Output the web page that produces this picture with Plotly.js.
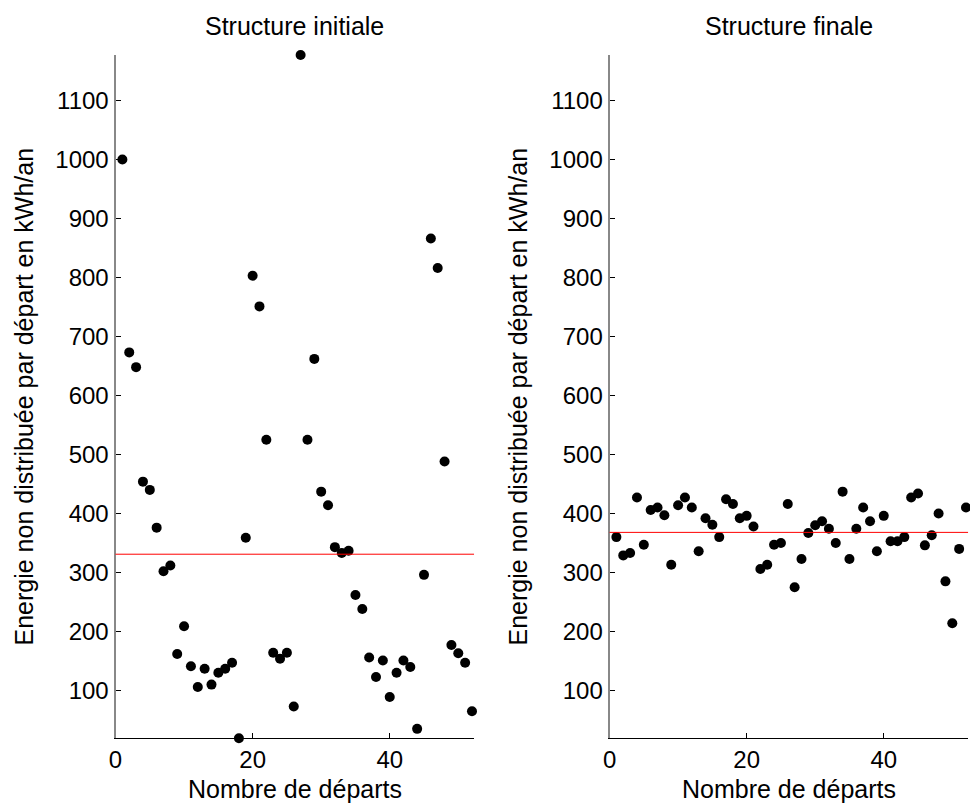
<!DOCTYPE html>
<html>
<head>
<meta charset="utf-8">
<script src="https://cdn.plot.ly/plotly-3.0.1.min.js"></script>
<style>
html,body{margin:0;padding:0;background:#fff;}
#chart{width:970px;height:810px;}
</style>
</head>
<body>
<div id="chart"></div>
<script>
// Data
const departs = [1,2,3,4,5,6,7,8,9,10,11,12,13,14,15,16,17,18,19,20,21,22,23,24,25,26,27,28,29,30,31,32,33,34,35,36,37,38,39,40,41,42,43,44,45,46,47,48,49,50,51,52];
const energieInitiale = [1000,673,648,454,440,376,302,312,162,209,141,106,137,110,130,137,147,19,359,803,751,525,164,154,164,73,1177,525,662,437,414,343,333,337,262,238,156,123,151,89,130,151,140,35,296,866,816,488,177,163,147,65];
const energieFinale = [360,329,333,427,347,406,410,397,313,414,427,410,336,392,381,360,424,416,392,396,378,306,313,347,350,416,275,323,367,380,387,374,350,437,323,374,410,387,336,396,353,353,360,427,434,346,363,400,285,214,340,410];
const moyenneInitiale = 331;
const moyenneFinale = 368;
const titres = ["Structure initiale", "Structure finale"];
const titreX = "Nombre de départs";
const titreY = "Energie non distribuée par départ en kWh/an";
const yTicks = [100,200,300,400,500,600,700,800,900,1000,1100];
const xTicks = [0,20,40];

const FONT = "Liberation Sans, Arial, Helvetica, sans-serif";

const traces = [
  {x: departs, y: energieInitiale, xaxis: 'x', yaxis: 'y', type: 'scatter', mode: 'markers',
   marker: {color: '#000', size: 10}, cliponaxis: false, hoverinfo: 'skip'},
  {x: departs, y: energieFinale, xaxis: 'x2', yaxis: 'y2', type: 'scatter', mode: 'markers',
   marker: {color: '#000', size: 10}, cliponaxis: false, hoverinfo: 'skip'}
];

function xAxis(domain, anchor) {
  return {domain: domain, anchor: anchor, range: [0, 52.3], tickmode: 'array', tickvals: xTicks,
    ticks: 'inside', ticklen: 5, tickcolor: '#000', showline: true, linecolor: '#000', linewidth: 1,
    showgrid: false, zeroline: false, tickfont: {family: FONT, size: 24, color: '#000'}};
}
function yAxis(domain, anchor) {
  return {domain: domain, anchor: anchor, range: [19, 1177], tickmode: 'array', tickvals: yTicks,
    ticks: 'inside', ticklen: 5, tickcolor: '#000', showline: true, linecolor: '#888', linewidth: 2,
    showgrid: false, zeroline: false, tickfont: {family: FONT, size: 24, color: '#000'}};
}

const yDom = [0.0885, 0.9321];
const layout = {
  width: 970, height: 810,
  margin: {l: 0, r: 0, t: 0, b: 0},
  paper_bgcolor: '#fff', plot_bgcolor: '#fff',
  showlegend: false,
  xaxis: xAxis([0.1191, 0.4887], 'y'),
  yaxis: yAxis(yDom, 'x'),
  xaxis2: xAxis([0.6284, 0.998], 'y2'),
  yaxis2: yAxis(yDom, 'x2'),
  shapes: [
    {type: 'line', xref: 'x domain', x0: 0, x1: 1, yref: 'y', y0: moyenneInitiale, y1: moyenneInitiale,
     line: {color: '#ff0000', width: 1}},
    {type: 'line', xref: 'x2 domain', x0: 0, x1: 1, yref: 'y2', y0: moyenneFinale, y1: moyenneFinale,
     line: {color: '#ff0000', width: 1}}
  ],
  annotations: [
    {text: titres[0], xref: 'paper', yref: 'paper', x: 0.3039, y: 0.968, xanchor: 'center', yanchor: 'middle',
     showarrow: false, font: {family: FONT, size: 25, color: '#000'}},
    {text: titres[1], xref: 'paper', yref: 'paper', x: 0.8132, y: 0.968, xanchor: 'center', yanchor: 'middle',
     showarrow: false, font: {family: FONT, size: 25, color: '#000'}},
    {text: titreX, xref: 'paper', yref: 'paper', x: 0.3039, y: 0.026, xanchor: 'center', yanchor: 'middle',
     showarrow: false, font: {family: FONT, size: 25, color: '#000'}},
    {text: titreX, xref: 'paper', yref: 'paper', x: 0.8132, y: 0.026, xanchor: 'center', yanchor: 'middle',
     showarrow: false, font: {family: FONT, size: 25, color: '#000'}},
    {text: titreY, xref: 'paper', yref: 'paper', x: 24/970, y: 0.5105, xanchor: 'center', yanchor: 'middle',
     textangle: -90, showarrow: false, font: {family: FONT, size: 25, color: '#000'}},
    {text: titreY, xref: 'paper', yref: 'paper', x: 518/970, y: 0.5105, xanchor: 'center', yanchor: 'middle',
     textangle: -90, showarrow: false, font: {family: FONT, size: 25, color: '#000'}}
  ]
};

Plotly.newPlot('chart', traces, layout, {staticPlot: true, displayModeBar: false});
</script>
</body>
</html>
